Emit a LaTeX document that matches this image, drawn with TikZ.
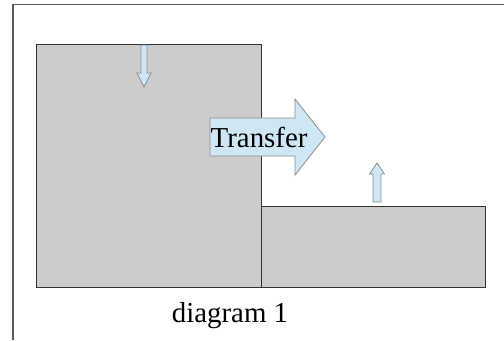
\documentclass[tikz,border=0pt]{standalone}
\usepackage{fontspec}
\setmainfont{Liberation Serif}
\usepackage{xcolor}
\definecolor{flowblue}{HTML}{CFE7F5}
\definecolor{tankgray}{HTML}{CCCCCC}

\begin{document}
\begin{tikzpicture}[x=1bp,y=-1bp]
        \tikzset{tank/.style={draw=black!80,fill=tankgray,line width=1.2bp,inner sep=0pt,anchor=north west},
            flow/.style={draw=black!45,fill=flowblue,line width=0.8bp,line join=miter},
            frame/.style={draw=black!65,line width=1.5bp},
            label/.style={inner sep=0pt,font=\fontsize{29}{31}\selectfont}}
        \useasboundingbox (0,0) rectangle (504,340);
        \draw[frame] (13,340) -- (13,4.5) -- (504,4.5);
        % the two tanks
        \node[tank,minimum width=225bp,minimum height=243bp] (upper) at (36,44) {};
        \node[tank,minimum width=224bp,minimum height=81bp] (lower) at (261,206) {};
        % level arrows
        \path[flow] (141,45) -- (147,45) -- (147,73) -- (151,73) -- (144,87)
            -- (137,73) -- (141,73) -- cycle;
        \path[flow] (373,202) -- (381,202) -- (381,174) -- (384.5,174) -- (377,163)
            -- (369.5,174) -- (373,174) -- cycle;
        % transfer arrow
        \path[flow] (210,118) -- (295,118) -- (295,99) -- (325,137) -- (295,175)
            -- (295,156) -- (210,156) -- cycle;
        \node[label,anchor=base west] (move) at (210.5,147) {Transfer};
        \node[label,anchor=base] (caption) at (230,322) {diagram 1};
    \end{tikzpicture}
\end{document}
